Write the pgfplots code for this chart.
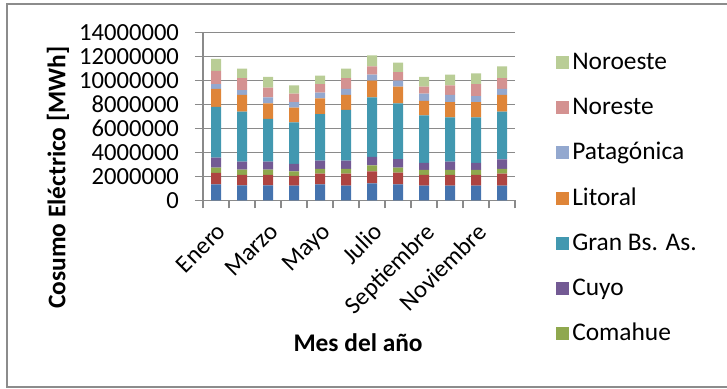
\documentclass[border=0pt]{standalone}
\usepackage{fontspec}
\setmainfont{Carlito}
\usepackage{pgfplots}
\pgfplotsset{compat=1.18}
\usepackage{pgfplotstable}
\definecolor{cA}{HTML}{4573AE}
\definecolor{cB}{HTML}{AE4441}
\definecolor{cC}{HTML}{8FA84E}
\definecolor{cD}{HTML}{735A94}
\definecolor{cE}{HTML}{4298B0}
\definecolor{cF}{HTML}{DF8538}
\definecolor{cG}{HTML}{93A8CF}
\definecolor{cH}{HTML}{D49291}
\definecolor{cI}{HTML}{B9CD96}
\definecolor{gridgray}{HTML}{8A8A8A}
\definecolor{bordergray}{HTML}{8C8C8C}
\pgfplotstableread{
mes b1 b2 b3 b4 b5 b6 b7 b8 b9
0 1330000 950000 440000 840000 4220000 1500000 410000 1090000 1000000
1 1250000 860000 450000 660000 4170000 1390000 410000 1000000 780000
2 1250000 860000 450000 660000 3560000 1300000 500000 810000 890000
3 1220000 810000 390000 610000 3470000 1220000 470000 700000 690000
4 1330000 890000 390000 700000 3880000 1310000 470000 720000 700000
5 1220000 1000000 390000 700000 4220000 1250000 500000 910000 780000
6 1420000 1000000 500000 690000 4970000 1390000 500000 700000 910000
7 1330000 980000 410000 720000 4640000 1390000 500000 720000 780000
8 1220000 890000 420000 580000 3970000 1200000 610000 580000 810000
9 1220000 890000 420000 690000 3700000 1270000 590000 800000 890000
10 1220000 890000 420000 580000 3810000 1270000 500000 1000000 890000
11 1220000 1000000 390000 810000 3970000 1390000 500000 910000 980000
}\datos
\begin{document}
\begin{tikzpicture}
\useasboundingbox (0,0) rectangle (363.5pt,194pt);
\draw[draw=bordergray, line width=0.8pt] (3.5pt,0.5pt) rectangle (370pt,192pt);
\begin{axis}[
  at={(101.5pt,93.85pt)}, anchor=south west,
  scale only axis, width=156pt, height=84pt,
  xmin=-0.5, xmax=11.5, ymin=0, ymax=14000000,
  ybar stacked, bar width=5pt,
  axis lines*=left,
  axis line style={draw=gridgray, line width=0.6pt},
  ymajorgrids, grid style={draw=gridgray, line width=0.6pt},
  ytick={0,2000000,4000000,6000000,8000000,10000000,12000000,14000000},
  scaled y ticks=false,
  /pgf/number format/assume math mode=true,
  yticklabel style={/pgf/number format/fixed, /pgf/number format/1000 sep={}},
  tick label style={font=\fontsize{12.3}{14}\selectfont},
  yticklabel shift=4.5pt,
  xticklabel shift=5pt,
  tick align=outside, major tick length=4pt, minor tick length=4pt,
  xtick={0,2,4,6,8,10},
  xticklabels={Enero,Marzo,Mayo,Julio,Septiembre,Noviembre},
  major x tick style={draw=none},
  minor xtick={-0.5,0.5,...,11.5},
  minor x tick style={draw=gridgray, line width=0.6pt},
  major y tick style={draw=gridgray, line width=0.6pt},
  xticklabel style={rotate=45, anchor=north east, inner sep=1pt},
  xlabel={Mes del año},
  ylabel={Cosumo Eléctrico [MWh]},
  label style={font=\bfseries\fontsize{12.7}{14}\selectfont},
  xlabel style={at={(rel axis cs:0.497,-0.849)}, anchor=center},
  ylabel style={at={(rel axis cs:-0.465,0.136)}, anchor=center},
  legend style={draw=none, fill=none, at={(rel axis cs:1.131,0.895)}, anchor=north west,
    font=\fontsize{12.7}{14}\selectfont, row sep=9.6pt, inner sep=0pt,
    nodes={inner sep=1.5pt}},
  legend cell align=left,
  reverse legend,
  legend image code/.code={\fill[#1] (0pt,-3.25pt) rectangle (6.5pt,3.25pt);},
]
\addplot[fill=cA, draw=none] table[x=mes, y=b1] {\datos};
\addplot[fill=cB, draw=none] table[x=mes, y=b2] {\datos};
\addplot[fill=cC, draw=none] table[x=mes, y=b3] {\datos};
\addplot[fill=cD, draw=none] table[x=mes, y=b4] {\datos};
\addplot[fill=cE, draw=none] table[x=mes, y=b5] {\datos};
\addplot[fill=cF, draw=none] table[x=mes, y=b6] {\datos};
\addplot[fill=cG, draw=none] table[x=mes, y=b7] {\datos};
\addplot[fill=cH, draw=none] table[x=mes, y=b8] {\datos};
\addplot[fill=cI, draw=none] table[x=mes, y=b9] {\datos};
\legend{,,Comahue,Cuyo,Gran Bs. As.,Litoral,Patagónica,Noreste,Noroeste}
\end{axis}
\end{tikzpicture}
\end{document}
